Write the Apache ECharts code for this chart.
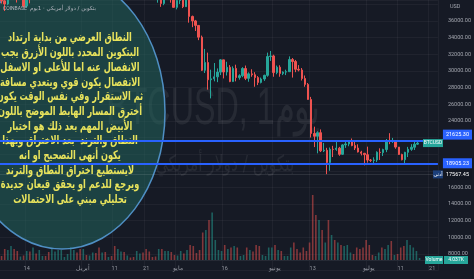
<!DOCTYPE html>
<html><head><meta charset="utf-8">
<script src="https://cdn.jsdelivr.net/npm/echarts@6/dist/echarts.min.js"></script>
<style>html,body{margin:0;padding:0;background:#161a25;overflow:hidden}#c{width:474px;height:279px}</style>
</head><body><div id="c"></div>
<script>
// ---------- data ----------
const firstDay = Date.UTC(2022, 2, 6);   // 6 Mar 2022
const dayCount = 140;                    // visible days incl. empty future area
const dates = [];
for (let i = 0; i < dayCount; i++) dates.push(new Date(firstDay + i * 86400000).toISOString().slice(0, 10));

// daily candles [open, close, low, high], from 6 Mar 2022 to 17 Jul 2022
const ohlc = [
[39400,38420,38100,39650],[38420,38040,37200,39500],[38040,38740,37900,39350],[38740,41950,38650,42550],
[41950,39440,38550,42000],[39440,38740,38220,40250],[38740,38810,38660,39370],[38810,37790,37600,39300],
[37790,39670,37580,39900],[39670,39290,38120,39900],[39290,41130,38900,41700],[41130,40940,40550,41450],
[40940,41790,40150,42300],[41790,42200,41500,42400],[42200,41260,40950,42300],[41260,41000,40500,42000],
[41000,42370,40900,43350],[42370,42890,41800,43000],[42890,43960,42600,44200],[43960,44330,43600,45100],
[44330,44550,44100,44800],[44550,46820,44450,46900],[46820,47130,46650,48200],[47130,47450,46950,48100],
[47450,47070,46550,47700],[47070,45530,45200,47600],[45530,46280,44250,46700],[46280,45840,45700,47200],
[45840,46400,45500,47400],[46400,46620,45150,46900],[46620,45500,45360,47200],[45500,43170,43050,45520],
[43170,43450,42750,43900],[43450,42280,42130,43950],[42280,42770,42150,42800],[42770,42160,41900,43400],
[42160,39530,39200,42400],[39530,40080,39250,40700],[40080,41150,39560,41550],[41150,39940,39580,41500],
[39940,40550,39780,40870],[40550,40380,40000,40700],[40380,39680,39550,40600],[39680,40800,38550,41100],
[40800,41500,40550,41750],[41500,41370,40830,42200],[41370,40480,39750,42980],[40480,39710,39200,40800],
[39710,39460,39290,39980],[39460,39450,39000,39950],[39450,40430,38200,40600],[40430,38110,37700,40800],
[38110,39240,37900,39450],[39240,39740,38850,40400],[39740,38600,38200,39950],[38600,37640,37600,38800],
[37640,38470,37400,38700],[38470,38520,38050,39150],[38520,37720,37550,38650],[37720,39690,37680,39900],
[39690,36550,35800,39800],[36550,36010,35260,36650],[36010,35470,34800,36130],[35470,34060,33700,35500],
[34060,30080,30000,34250],[30080,31010,29750,32650],[31010,28940,27750,32200],[28940,29050,26700,30150],
[29050,29290,28750,30950],[29290,29860,28650,30300],[29860,31330,29500,31420],[31330,29870,29100,31330],
[29870,30440,29450,31100],[30440,28720,28650,30700],[28720,30300,28700,30550],[30300,29200,28750,30750],
[29200,29430,28950,29600],[29430,30290,29250,30450],[30290,29110,28900,30650],[29110,29650,28700,29830],
[29650,29540,29300,30200],[29540,29200,28100,29850],[29200,28620,28300,29380],[28620,29030,28500,29200],
[29030,29470,28800,29550],[29470,31730,29300,32200],[31730,31800,31200,32400],[31800,29800,29300,31950],
[29800,30450,29600,30650],[30450,29700,29300,30680],[29700,29860,29500,29950],[29860,29910,29500,30150],
[29910,31370,29880,31750],[31370,31130,29200,31550],[31130,30200,29850,31320],[30200,30110,29950,30700],
[30110,29090,28850,30350],[29090,28380,28100,29450],[28380,26570,26550,28550],[26570,22490,22000,26880],
[22490,22150,20850,23300],[22150,22580,20100,22750],[22580,20400,20250,22970],[20400,20470,20250,21350],
[20470,19000,17600,20760],[19000,20580,18000,20800],[20580,20570,19650,21000],[20570,20720,20400,21700],
[20720,19980,19800,20870],[19980,21110,19900,21200],[21110,21230,20750,21500],[21230,21500,20950,21600],
[21500,21030,20950,21880],[21030,20730,20500,21500],[20730,20260,20200,21180],[20260,20100,19850,20400],
[20100,19940,18650,20150],[19940,19290,18980,20900],[19290,19250,19050,19420],[19250,19300,18780,19620],
[19300,20230,19050,20340],[20230,20190,19300,20700],[20190,20550,19780,20650],[20550,21630,20240,21820],
[21630,21590,21200,22520],[21590,21590,21350,21950],[21590,20850,20650,21600],[20850,19960,19900,20860],
[19960,19330,19250,20050],[19330,20220,18900,20280],[20220,20580,19650,20870],[20580,20830,20400,21200],
[20830,21200,20500,21550],[21200,21330.67,21100,21650]
];

// daily volume (thousands)
const volume = [
8,22,20,28,22,18,7,9,18,17,25,13,20,8,8,16,22,17,20,20,6,12,26,20,15,22,
22,10,9,15,14,25,15,16,6,8,28,22,17,16,9,5,6,18,13,15,22,17,6,7,22,22,18,18,16,10,
9,18,13,20,30,28,14,20,55,60,80,95,40,20,18,30,22,25,28,25,8,10,25,20,17,30,28,10,8,25,25,
30,20,18,8,8,25,35,22,15,25,18,35,130,90,80,60,35,80,50,40,35,30,28,30,15,12,25,22,25,40,
30,10,8,15,25,22,30,38,10,12,25,28,40,30,25,18,4.037
];

const tickDates = ['2022-03-14','2022-04-01','2022-04-11','2022-04-21','2022-05-01','2022-05-16','2022-06-01','2022-06-13','2022-07-01','2022-07-11','2022-07-21'];
const tickTexts = ['14','أبريل','11','21','مايو','16','يونيو','13','يوليو','11','21'];

const priceMin = 6000, priceMax = 38524, priceStep = 2000;
const shownPriceRange = [8000, 36000];
const hiddenPriceLabels = [18000, 20000, 22000];

const bandTop = 21625.30;
const bandBottom = 18905.23;
const lastPrice = 21330.67;
const countdown = '12:19:44';
const lowPrice = 17567.45;
const crossPrice = 17300.21;
const lastVolume = '4.037K';
const trendStart = ['2022-05-07', 39474];
const trendEnd = ['2022-07-23', 20353];

const noteLines = [
'النطاق العرضي من بداية ارتداد',
'البتكوين المحدد باللون الأزرق يجب',
'الانفصال عنه اما للأعلى او الاسفل',
'الانفصال يكون قوي ويتعدي مسافة',
'ثم الاستقرار وفي نفس الوقت يكون',
'أخترق المسار الهابط الموضح باللون',
'الأبيض المهم بعد ذلك هو اختبار',
'النطاق والترند  بعد الاختراق وبهذا',
'يكون أنهى التصحيح او انه',
'لايستطيع اختراق النطاق والترند',
'ويرجع للدعم او يحقق قيعان جديدة',
'تحليلي مبني على الاحتمالات'
];

// ---------- chart ----------
const UP = '#26a69a', DOWN = '#ef5350';
const candleData = dates.map((d, i) => ohlc[i] ? ohlc[i] : '-');
const volData = dates.map((d, i) => {
  if (volume[i] === undefined) return '-';
  const up = ohlc[i][1] >= ohlc[i][0];
  return { value: volume[i], itemStyle: { color: up ? 'rgba(38,166,154,0.5)' : 'rgba(239,83,80,0.5)' } };
});
const tickIdx = tickDates.map(d => dates.indexOf(d));
const tickFn = (idx) => tickIdx.indexOf(idx) >= 0;
const labFont = { fontSize: 5.5, fontFamily: 'Roboto' };
const priceLabel = (v) => (v >= shownPriceRange[0] && v <= shownPriceRange[1] && v % priceStep === 0 && hiddenPriceLabels.indexOf(v) < 0) ? v.toFixed(2) : '';

const tag = (bg, fg, offsetY) => ({
  show: true, position: 'end', distance: 5, color: fg, backgroundColor: bg,
  fontSize: 5.5, fontFamily: 'Roboto', padding: [2, 3, 1, 3], lineHeight: 7, offset: [0, offsetY]
});

const chart = echarts.init(document.getElementById('c'), null, { renderer: 'canvas' });
chart.setOption({
  backgroundColor: '#161a25',
  animation: false,
  grid: [
    { left: -1, right: 34, top: 0, height: (priceMax - priceMin) * 0.0083214 },
    { left: -1, right: 34, bottom: 19, height: 100 }
  ],
  xAxis: [
    { type: 'category', data: dates, gridIndex: 0, boundaryGap: true,
      axisLine: { show: false }, axisTick: { show: false }, axisLabel: { show: false },
      splitLine: { show: true, interval: tickFn, lineStyle: { color: 'rgba(255,255,255,0.045)' } } },
    { type: 'category', data: dates, gridIndex: 1, boundaryGap: true,
      axisLine: { show: true, lineStyle: { color: '#262a35' } }, axisTick: { show: false },
      axisLabel: { interval: tickFn, color: '#9598a1', margin: 6, ...labFont,
        formatter: (v) => tickTexts[tickDates.indexOf(v)] || '' },
      splitLine: { show: false } }
  ],
  yAxis: [
    { type: 'value', gridIndex: 0, position: 'right', min: priceMin, max: priceMax, interval: priceStep,
      axisLine: { show: false }, axisTick: { show: false },
      axisLabel: { color: '#a3a6af', margin: 10, ...labFont, formatter: priceLabel },
      splitLine: { lineStyle: { color: 'rgba(255,255,255,0.045)' } } },
    { type: 'value', gridIndex: 1, min: 0, max: 200, show: false, splitLine: { show: false } }
  ],
  series: [
    { type: 'bar', xAxisIndex: 1, yAxisIndex: 1, data: volData, barWidth: 1.6, z: 1 },
    { type: 'candlestick', xAxisIndex: 0, yAxisIndex: 0, data: candleData, barWidth: '62%', z: 2,
      itemStyle: { color: UP, color0: DOWN, borderColor: UP, borderColor0: DOWN, borderWidth: 1 },
      markLine: {
        symbol: 'none', silent: true, animation: false,
        data: [
          [ { coord: trendStart, lineStyle: { color: '#ffffff', width: 1.5, type: 'solid' }, label: { show: false } },
            { coord: trendEnd } ],
          { yAxis: bandTop, lineStyle: { color: '#2962ff', width: 2, type: 'solid' },
            label: { ...tag('#2962ff', '#ffffff', -6), formatter: bandTop.toFixed(2) } },
          { yAxis: bandBottom, lineStyle: { color: '#2962ff', width: 2, type: 'solid' },
            label: { ...tag('#2962ff', '#ffffff', 0), formatter: bandBottom.toFixed(2) } },
          { yAxis: lowPrice, lineStyle: { color: 'rgba(255,255,255,0.1)', width: 1, type: 'solid' },
            label: { ...tag('#131722', '#ffffff', 0), formatter: lowPrice.toFixed(2) } },
          { yAxis: lastPrice, lineStyle: { opacity: 0 },
            label: { ...tag(UP, '#ffffff', 4.5), formatter: lastPrice.toFixed(2) + '\n' + countdown } },
          { yAxis: crossPrice, lineStyle: { opacity: 0 },
            label: { ...tag('#f0f3fa', '#131722', 7), formatter: crossPrice.toFixed(2) } }
        ]
      } }
  ]
});

const yLast = chart.convertToPixel({ yAxisIndex: 0 }, lastPrice);
const yLow = chart.convertToPixel({ yAxisIndex: 0 }, lowPrice);

chart.setOption({
  graphic: { elements: [
    { type: 'text', id: 'wm1', x: 213, y: 110, z: 0, scaleX: 0.62,
      style: { text: 'BTCUSD, 1يوم', fill: 'rgba(255,255,255,0.07)', font: '52px "Liberation Sans"', textAlign: 'center', textVerticalAlign: 'middle' } },
    { type: 'text', id: 'wm2', x: 225, y: 165, z: 0, scaleX: 0.7,
      style: { text: 'بتكوين / دولار أمريكي', fill: 'rgba(255,255,255,0.07)', font: '22px "DejaVu Sans"', textAlign: 'center', textVerticalAlign: 'middle' } },
    { type: 'ellipse', id: 'ell', z: 1.5, shape: { cx: 62, cy: 112, rx: 103, ry: 137 },
      style: { fill: 'rgba(34,100,92,0.55)', stroke: '#4f8fc4', lineWidth: 1.5 } },
    { type: 'text', id: 'note', x: 70, y: 31, z: 1.6, scaleX: 0.68,
      style: { text: noteLines.join('\n'), fill: '#e8e35c', font: 'bold 12px "DejaVu Sans"', textAlign: 'center', textVerticalAlign: 'top', lineHeight: 14.7 } },
    { type: 'text', id: 'hdr1', x: 3, y: 9, z: 5,
      style: { text: 'COINBASE', fill: '#b2b5be', font: '5px "Roboto"', textVerticalAlign: 'middle' } },
    { type: 'text', id: 'hdr2', x: 30, y: 9, z: 5,
      style: { text: 'بتكوين / دولار أمريكي · 1يوم', fill: '#b2b5be', font: '5.5px "DejaVu Sans"', textVerticalAlign: 'middle' } },
    { type: 'text', id: 'usd', x: 450, y: 7, z: 5,
      style: { text: 'USD', fill: '#a3a6af', font: '5.5px "Roboto"', textVerticalAlign: 'middle' } },
    { type: 'rect', id: 'symTagR', z: 5, shape: { x: 423, y: yLast - 4, width: 20, height: 8 }, style: { fill: UP } },
    { type: 'text', id: 'symTagT', x: 433, y: yLast, z: 6,
      style: { text: 'BTCUSD', fill: '#fff', font: '5px "Roboto"', textAlign: 'center', textVerticalAlign: 'middle' } },
    { type: 'rect', id: 'lowTagR', z: 5, shape: { x: 433, y: yLow - 4, width: 10, height: 8 }, style: { fill: '#1c3f7a' } },
    { type: 'text', id: 'lowTagT', x: 438, y: yLow, z: 6,
      style: { text: 'أدنى', fill: '#fff', font: '5px "DejaVu Sans"', textAlign: 'center', textVerticalAlign: 'middle' } },
    { type: 'rect', id: 'volR1', z: 5, shape: { x: 425, y: 256, width: 18, height: 8 }, style: { fill: UP } },
    { type: 'text', id: 'volT1', x: 434, y: 260, z: 6,
      style: { text: 'Volume', fill: '#fff', font: '5px "Roboto"', textAlign: 'center', textVerticalAlign: 'middle' } },
    { type: 'rect', id: 'volR2', z: 5, shape: { x: 444, y: 256, width: 24, height: 8 }, style: { fill: UP } },
    { type: 'text', id: 'volT2', x: 456, y: 260, z: 6,
      style: { text: lastVolume, fill: '#fff', font: '5px "Roboto"', textAlign: 'center', textVerticalAlign: 'middle' } }
  ] }
});
</script></body></html>
